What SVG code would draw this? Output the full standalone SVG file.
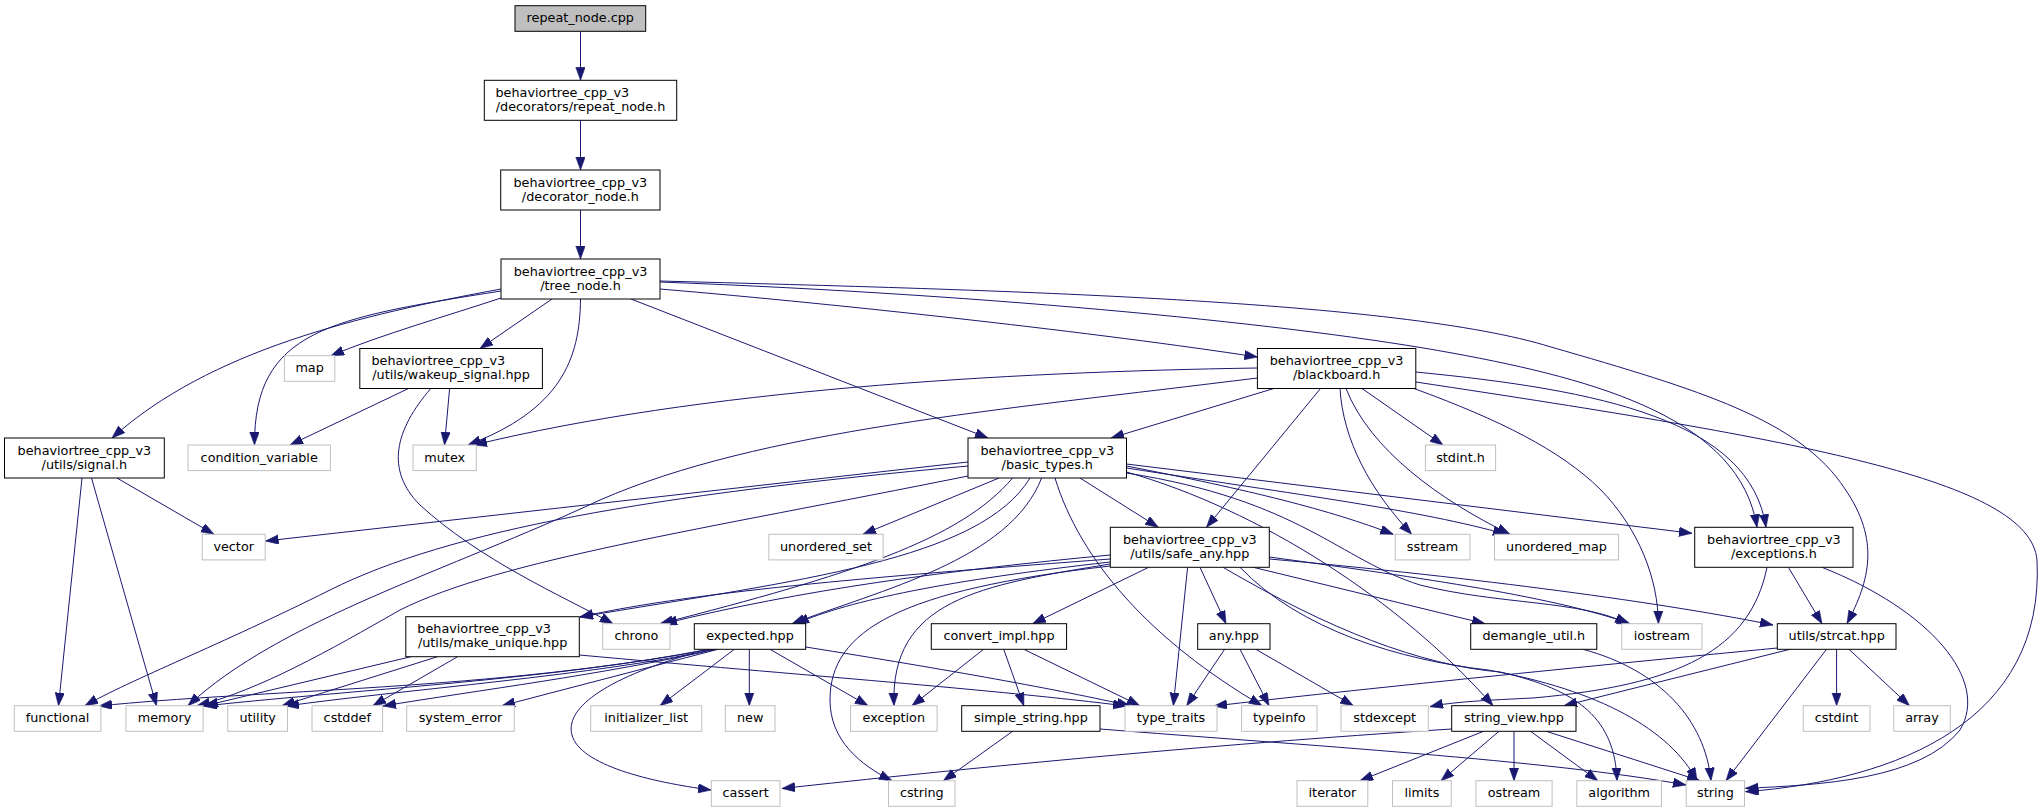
<svg xmlns="http://www.w3.org/2000/svg" width="2043" height="812" viewBox="0 0 2043 812">
<style>
text{font-family:"DejaVu Sans","Liberation Sans",sans-serif;font-size:12.8px;fill:#000}
.c{text-anchor:middle}
.n rect{fill:#fff;stroke:#000;stroke-width:1}
.x rect{fill:#fff;stroke:#bfbfbf;stroke-width:1}
.t rect{fill:#bfbfbf;stroke:#000;stroke-width:1}
.e{fill:none;stroke:#191970;stroke-width:1;marker-end:url(#a)}
</style>
<defs>
<marker id="a" markerUnits="userSpaceOnUse" markerWidth="13" markerHeight="10" refX="13" refY="4.7" orient="auto">
<path d="M0,0 L13,4.7 L0,9.4 z" fill="#191970" stroke="#191970" stroke-width="0.6"/>
</marker>
</defs>
<rect x="0" y="0" width="2043" height="812" fill="#fff"/>
<g id="edges">
<path class="e" d="M580.5,31.3 L580.5,80.3"/>
<path class="e" d="M580.5,120.3 L580.5,170"/>
<path class="e" d="M580.5,210 L580.5,259"/>
<path class="e" d="M501,289 C360,315 210,350 112,438"/>
<path class="e" d="M501,291 C330,318 254,330 254.5,445"/>
<path class="e" d="M501,298 C450,315 380,335 331,355.7"/>
<path class="e" d="M552,299 L480,348.5"/>
<path class="e" d="M580.5,299 C580,360 560,410 468,445"/>
<path class="e" d="M631,299 L988,438"/>
<path class="e" d="M660,289 C850,305 1100,333 1257.4,357"/>
<path class="e" d="M660,282 C1000,295 1300,325 1452,353 C1600,380 1740,420 1757,527.3"/>
<path class="e" d="M660,281 C1000,290 1400,300 1551,347 C1700,390 1800,420 1845,489 C1880,540 1870,580 1847,623.5"/>
<path class="e" d="M82,478 L58.5,705.7"/>
<path class="e" d="M91.5,478 L156.5,705.7"/>
<path class="e" d="M117,478 L214,534.3"/>
<path class="e" d="M408.5,388.5 L290,445"/>
<path class="e" d="M449.6,388.5 L444.5,445"/>
<path class="e" d="M430.8,388.5 C395,430 385,470 420,505 C480,560 560,595 613,623.7"/>
<path class="e" d="M1257.4,368 C1000,372 700,390 474,445"/>
<path class="e" d="M1257.4,378 C1000,410 760,430 600,500 C450,570 280,620 188,705.7"/>
<path class="e" d="M1273.8,388.5 L1111,438"/>
<path class="e" d="M1320.5,388.5 L1206.5,527.3"/>
<path class="e" d="M1362,388.5 L1443,445"/>
<path class="e" d="M1340,388.5 C1343,440 1370,490 1411.7,534.3"/>
<path class="e" d="M1346,388.5 C1370,450 1440,500 1510,534.3"/>
<path class="e" d="M1414,388.5 C1500,420 1560,450 1600,489 C1640,530 1658,580 1658.4,623.7"/>
<path class="e" d="M1415.8,372 C1600,390 1750,420 1766,527.3"/>
<path class="e" d="M1415.8,382 C1800,440 2030,480 2037,560 C2045,720 1900,780 1745.5,791.7"/>
<path class="e" d="M968,462 L265.5,541"/>
<path class="e" d="M968,466 C650,495 450,530 330,590 C220,645 130,680 85,705.7"/>
<path class="e" d="M968,476 C700,530 500,560 400,610 C330,650 260,690 197,705.7"/>
<path class="e" d="M1012.6,478 C960,540 850,575 660,623.7"/>
<path class="e" d="M999,478 L863,534.3"/>
<path class="e" d="M1041.6,478 C1010,560 880,590 792,623.7"/>
<path class="e" d="M1030,478 C980,560 800,580 580,617"/>
<path class="e" d="M1080,478 L1158.3,527.3"/>
<path class="e" d="M1055,478 C1080,560 1150,640 1262,705.7"/>
<path class="e" d="M1126.5,472 C1260,510 1400,600 1493,705.7"/>
<path class="e" d="M1126.5,466 C1250,490 1330,510 1393.3,534.3"/>
<path class="e" d="M1126.5,468 C1300,495 1420,510 1506,534.3"/>
<path class="e" d="M1126.5,473 C1300,500 1340,560 1420,585 C1500,605 1580,600 1628,623.7"/>
<path class="e" d="M1126.5,464 L1692,533.3"/>
<path class="e" d="M1110.3,555 C950,570 800,590 664,623.7"/>
<path class="e" d="M1110.3,559 C900,575 700,590 580,617"/>
<path class="e" d="M1110.3,562 C950,580 850,600 796,623.7"/>
<path class="e" d="M1110.3,564 C980,585 890,600 894,705.7"/>
<path class="e" d="M1110.3,566 C900,590 830,630 830,700 C830,740 860,765 892,780.7"/>
<path class="e" d="M1148.7,567.3 L1032.7,623.7"/>
<path class="e" d="M1187.6,567.3 L1173.3,705.7"/>
<path class="e" d="M1200,567.3 L1226,623.7"/>
<path class="e" d="M1253.3,567.3 L1485,623.7"/>
<path class="e" d="M1269.3,557 C1400,575 1550,595 1630,623.7"/>
<path class="e" d="M1269.3,559 C1450,575 1650,600 1773,625"/>
<path class="e" d="M1223,567.3 C1330,630 1420,665 1500,672 C1580,690 1615,720 1617,780.7"/>
<path class="e" d="M1240,567.3 C1300,630 1400,660 1488,670 C1600,690 1670,730 1697,780.7"/>
<path class="e" d="M1767,567.3 C1750,650 1680,685 1533,698 C1490,700 1450,702 1430,706.7"/>
<path class="e" d="M1788.4,567.3 L1822,623.7"/>
<path class="e" d="M1822,567.3 C1930,610 1990,680 1960,730 C1920,780 1820,785 1745.5,788.3"/>
<path class="e" d="M411,656.7 L205,705.7"/>
<path class="e" d="M437.5,656.7 L282,705.7"/>
<path class="e" d="M457.6,656.7 L373,705.7"/>
<path class="e" d="M579.3,655 C800,675 1000,690 1126,706"/>
<path class="e" d="M710,649 C500,690 250,690 99,706"/>
<path class="e" d="M712,649 C550,680 350,690 204,706"/>
<path class="e" d="M714,649.3 C600,675 400,690 286,706"/>
<path class="e" d="M716,649.3 C600,675 480,690 383,706"/>
<path class="e" d="M718,649.3 L502,705.7"/>
<path class="e" d="M734.3,649.3 L660,705.7"/>
<path class="e" d="M749.3,649.3 L749.3,705.7"/>
<path class="e" d="M770,649.3 L868,705.7"/>
<path class="e" d="M805.7,647 C950,670 1060,690 1130,705.7"/>
<path class="e" d="M694.3,653 C600,680 565,710 572,735 C580,765 650,782 711,790"/>
<path class="e" d="M983.6,649.3 L912,705.7"/>
<path class="e" d="M1003.7,649.3 L1023.8,705.7"/>
<path class="e" d="M1023.8,649.3 L1139.8,705.7"/>
<path class="e" d="M1224.6,649.3 L1186.7,705.7"/>
<path class="e" d="M1240,649.3 L1269,705.7"/>
<path class="e" d="M1255.9,649.3 L1353.3,705.7"/>
<path class="e" d="M1583,649.3 C1660,670 1705,720 1711,780.7"/>
<path class="e" d="M1777.3,648 C1600,665 1350,690 1214,706"/>
<path class="e" d="M1790,649.3 L1564,705.7"/>
<path class="e" d="M1826.5,649.3 L1726,780.7"/>
<path class="e" d="M1836.6,649.3 L1836.6,705.7"/>
<path class="e" d="M1849,649.3 L1909.5,705.7"/>
<path class="e" d="M1012.6,731.3 L943.4,780.7"/>
<path class="e" d="M1100,729 C1300,745 1550,760 1686,785"/>
<path class="e" d="M1483.5,731.3 L1360,780.7"/>
<path class="e" d="M1499,731.3 L1441,780.7"/>
<path class="e" d="M1514,731.3 L1514,780.7"/>
<path class="e" d="M1530.6,731.3 L1597.8,780.7"/>
<path class="e" d="M1546.3,731.3 L1700,780.7"/>
<path class="e" d="M1451.7,729 C1200,745 950,770 782,788.5"/>
</g>
<g id="n_repeat_node_cpp" class="t"><rect x="515" y="5.7" width="130.7" height="25.6"/><text class="c" x="580.3" y="22.2">repeat_node.cpp</text></g>
<g id="n_repeat_node_h" class="n"><rect x="484.3" y="80.3" width="192.4" height="40"/><text x="495.5" y="96.8">behaviortree_cpp_v3</text><text class="c" x="580.5" y="111">/decorators/repeat_node.h</text></g>
<g id="n_decorator_node_h" class="n"><rect x="500.7" y="170" width="159.3" height="40"/><text class="c" x="580.3" y="186.5">behaviortree_cpp_v3</text><text class="c" x="580.3" y="200.7">/decorator_node.h</text></g>
<g id="n_tree_node_h" class="n"><rect x="501" y="259" width="159" height="40"/><text class="c" x="580.5" y="275.5">behaviortree_cpp_v3</text><text class="c" x="580.5" y="289.7">/tree_node.h</text></g>
<g id="n_map" class="x"><rect x="284.4" y="355.7" width="50.4" height="25.6"/><text class="c" x="309.6" y="372.2">map</text></g>
<g id="n_wakeup_signal" class="n"><rect x="359.8" y="348.5" width="182.6" height="40"/><text x="371.4" y="365">behaviortree_cpp_v3</text><text class="c" x="451.1" y="379.2">/utils/wakeup_signal.hpp</text></g>
<g id="n_blackboard_h" class="n"><rect x="1257.4" y="348.5" width="158.4" height="40"/><text class="c" x="1336.6" y="365">behaviortree_cpp_v3</text><text class="c" x="1336.6" y="379.2">/blackboard.h</text></g>
<g id="n_signal_h" class="n"><rect x="4.5" y="438" width="159.8" height="40"/><text class="c" x="84.4" y="454.5">behaviortree_cpp_v3</text><text class="c" x="84.4" y="468.7">/utils/signal.h</text></g>
<g id="n_condition_variable" class="x"><rect x="188" y="445" width="142.4" height="25.6"/><text class="c" x="259.2" y="461.5">condition_variable</text></g>
<g id="n_mutex" class="x"><rect x="413" y="445" width="63.3" height="25.6"/><text class="c" x="444.7" y="461.5">mutex</text></g>
<g id="n_basic_types_h" class="n"><rect x="968" y="438" width="158.5" height="40"/><text class="c" x="1047.3" y="454.5">behaviortree_cpp_v3</text><text class="c" x="1047.3" y="468.7">/basic_types.h</text></g>
<g id="n_stdint_h" class="x"><rect x="1425.4" y="445" width="70.2" height="25.6"/><text class="c" x="1460.5" y="461.5">stdint.h</text></g>
<g id="n_vector" class="x"><rect x="202.2" y="534.3" width="63" height="25.6"/><text class="c" x="233.7" y="550.8">vector</text></g>
<g id="n_unordered_set" class="x"><rect x="768.8" y="534.3" width="114.3" height="25.6"/><text class="c" x="826" y="550.8">unordered_set</text></g>
<g id="n_safe_any" class="n"><rect x="1110.3" y="527.3" width="159" height="40"/><text class="c" x="1189.8" y="543.8">behaviortree_cpp_v3</text><text class="c" x="1189.8" y="558">/utils/safe_any.hpp</text></g>
<g id="n_sstream" class="x"><rect x="1395.2" y="534.3" width="74.8" height="25.6"/><text class="c" x="1432.6" y="550.8">sstream</text></g>
<g id="n_unordered_map" class="x"><rect x="1494.5" y="534.3" width="124" height="25.6"/><text class="c" x="1556.5" y="550.8">unordered_map</text></g>
<g id="n_exceptions_h" class="n"><rect x="1694.7" y="527.3" width="158.3" height="40"/><text class="c" x="1773.9" y="543.8">behaviortree_cpp_v3</text><text class="c" x="1773.9" y="558">/exceptions.h</text></g>
<g id="n_make_unique" class="n"><rect x="405.8" y="616.7" width="173.5" height="40"/><text x="417.3" y="633.2">behaviortree_cpp_v3</text><text class="c" x="492.6" y="647.4">/utils/make_unique.hpp</text></g>
<g id="n_chrono" class="x"><rect x="602.7" y="623.7" width="67.3" height="25.6"/><text class="c" x="636.4" y="640.2">chrono</text></g>
<g id="n_expected" class="n"><rect x="694.3" y="623.7" width="111.4" height="25.6"/><text class="c" x="750" y="640.2">expected.hpp</text></g>
<g id="n_convert_impl" class="n"><rect x="931.3" y="623.7" width="135.3" height="25.6"/><text class="c" x="999" y="640.2">convert_impl.hpp</text></g>
<g id="n_any" class="n"><rect x="1197.7" y="623.7" width="72.3" height="25.6"/><text class="c" x="1233.9" y="640.2">any.hpp</text></g>
<g id="n_demangle_util" class="n"><rect x="1470.7" y="623.7" width="126.1" height="25.6"/><text class="c" x="1533.8" y="640.2">demangle_util.h</text></g>
<g id="n_iostream" class="x"><rect x="1621.8" y="623.7" width="80.2" height="25.6"/><text class="c" x="1661.9" y="640.2">iostream</text></g>
<g id="n_strcat" class="n"><rect x="1777.3" y="623.7" width="118.7" height="25.6"/><text class="c" x="1836.7" y="640.2">utils/strcat.hpp</text></g>
<g id="n_functional" class="x"><rect x="14.3" y="705.7" width="86.6" height="25.6"/><text class="c" x="57.6" y="722.2">functional</text></g>
<g id="n_memory" class="x"><rect x="125.9" y="705.7" width="77.2" height="25.6"/><text class="c" x="164.5" y="722.2">memory</text></g>
<g id="n_utility" class="x"><rect x="227.7" y="705.7" width="59.8" height="25.6"/><text class="c" x="257.6" y="722.2">utility</text></g>
<g id="n_cstddef" class="x"><rect x="312" y="705.7" width="70.6" height="25.6"/><text class="c" x="347.3" y="722.2">cstddef</text></g>
<g id="n_system_error" class="x"><rect x="406.7" y="705.7" width="107.6" height="25.6"/><text class="c" x="460.5" y="722.2">system_error</text></g>
<g id="n_initializer_list" class="x"><rect x="590.7" y="705.7" width="111" height="25.6"/><text class="c" x="646.2" y="722.2">initializer_list</text></g>
<g id="n_new" class="x"><rect x="725.3" y="705.7" width="49.7" height="25.6"/><text class="c" x="750.2" y="722.2">new</text></g>
<g id="n_exception" class="x"><rect x="850.5" y="705.7" width="86.6" height="25.6"/><text class="c" x="893.8" y="722.2">exception</text></g>
<g id="n_simple_string" class="n"><rect x="961.7" y="705.7" width="138.3" height="25.6"/><text class="c" x="1030.9" y="722.2">simple_string.hpp</text></g>
<g id="n_type_traits" class="x"><rect x="1125" y="705.7" width="92" height="25.6"/><text class="c" x="1171" y="722.2">type_traits</text></g>
<g id="n_typeinfo" class="x"><rect x="1241.6" y="705.7" width="75.4" height="25.6"/><text class="c" x="1279.3" y="722.2">typeinfo</text></g>
<g id="n_stdexcept" class="x"><rect x="1341" y="705.7" width="87.3" height="25.6"/><text class="c" x="1384.7" y="722.2">stdexcept</text></g>
<g id="n_string_view" class="n"><rect x="1451.7" y="705.7" width="124.3" height="25.6"/><text class="c" x="1513.9" y="722.2">string_view.hpp</text></g>
<g id="n_cstdint" class="x"><rect x="1803.2" y="705.7" width="66.8" height="25.6"/><text class="c" x="1836.6" y="722.2">cstdint</text></g>
<g id="n_array" class="x"><rect x="1893.8" y="705.7" width="56.5" height="25.6"/><text class="c" x="1922" y="722.2">array</text></g>
<g id="n_cassert" class="x"><rect x="711.3" y="780.7" width="68.7" height="25.6"/><text class="c" x="745.7" y="797.2">cassert</text></g>
<g id="n_cstring" class="x"><rect x="888.5" y="780.7" width="66.5" height="25.6"/><text class="c" x="921.8" y="797.2">cstring</text></g>
<g id="n_iterator" class="x"><rect x="1297" y="780.7" width="70.8" height="25.6"/><text class="c" x="1332.4" y="797.2">iterator</text></g>
<g id="n_limits" class="x"><rect x="1392.5" y="780.7" width="58.7" height="25.6"/><text class="c" x="1421.9" y="797.2">limits</text></g>
<g id="n_ostream" class="x"><rect x="1475.9" y="780.7" width="76.2" height="25.6"/><text class="c" x="1514" y="797.2">ostream</text></g>
<g id="n_algorithm" class="x"><rect x="1576.8" y="780.7" width="84.7" height="25.6"/><text class="c" x="1619.2" y="797.2">algorithm</text></g>
<g id="n_string" class="x"><rect x="1686.2" y="780.7" width="58.3" height="25.6"/><text class="c" x="1715.4" y="797.2">string</text></g>
</svg>
